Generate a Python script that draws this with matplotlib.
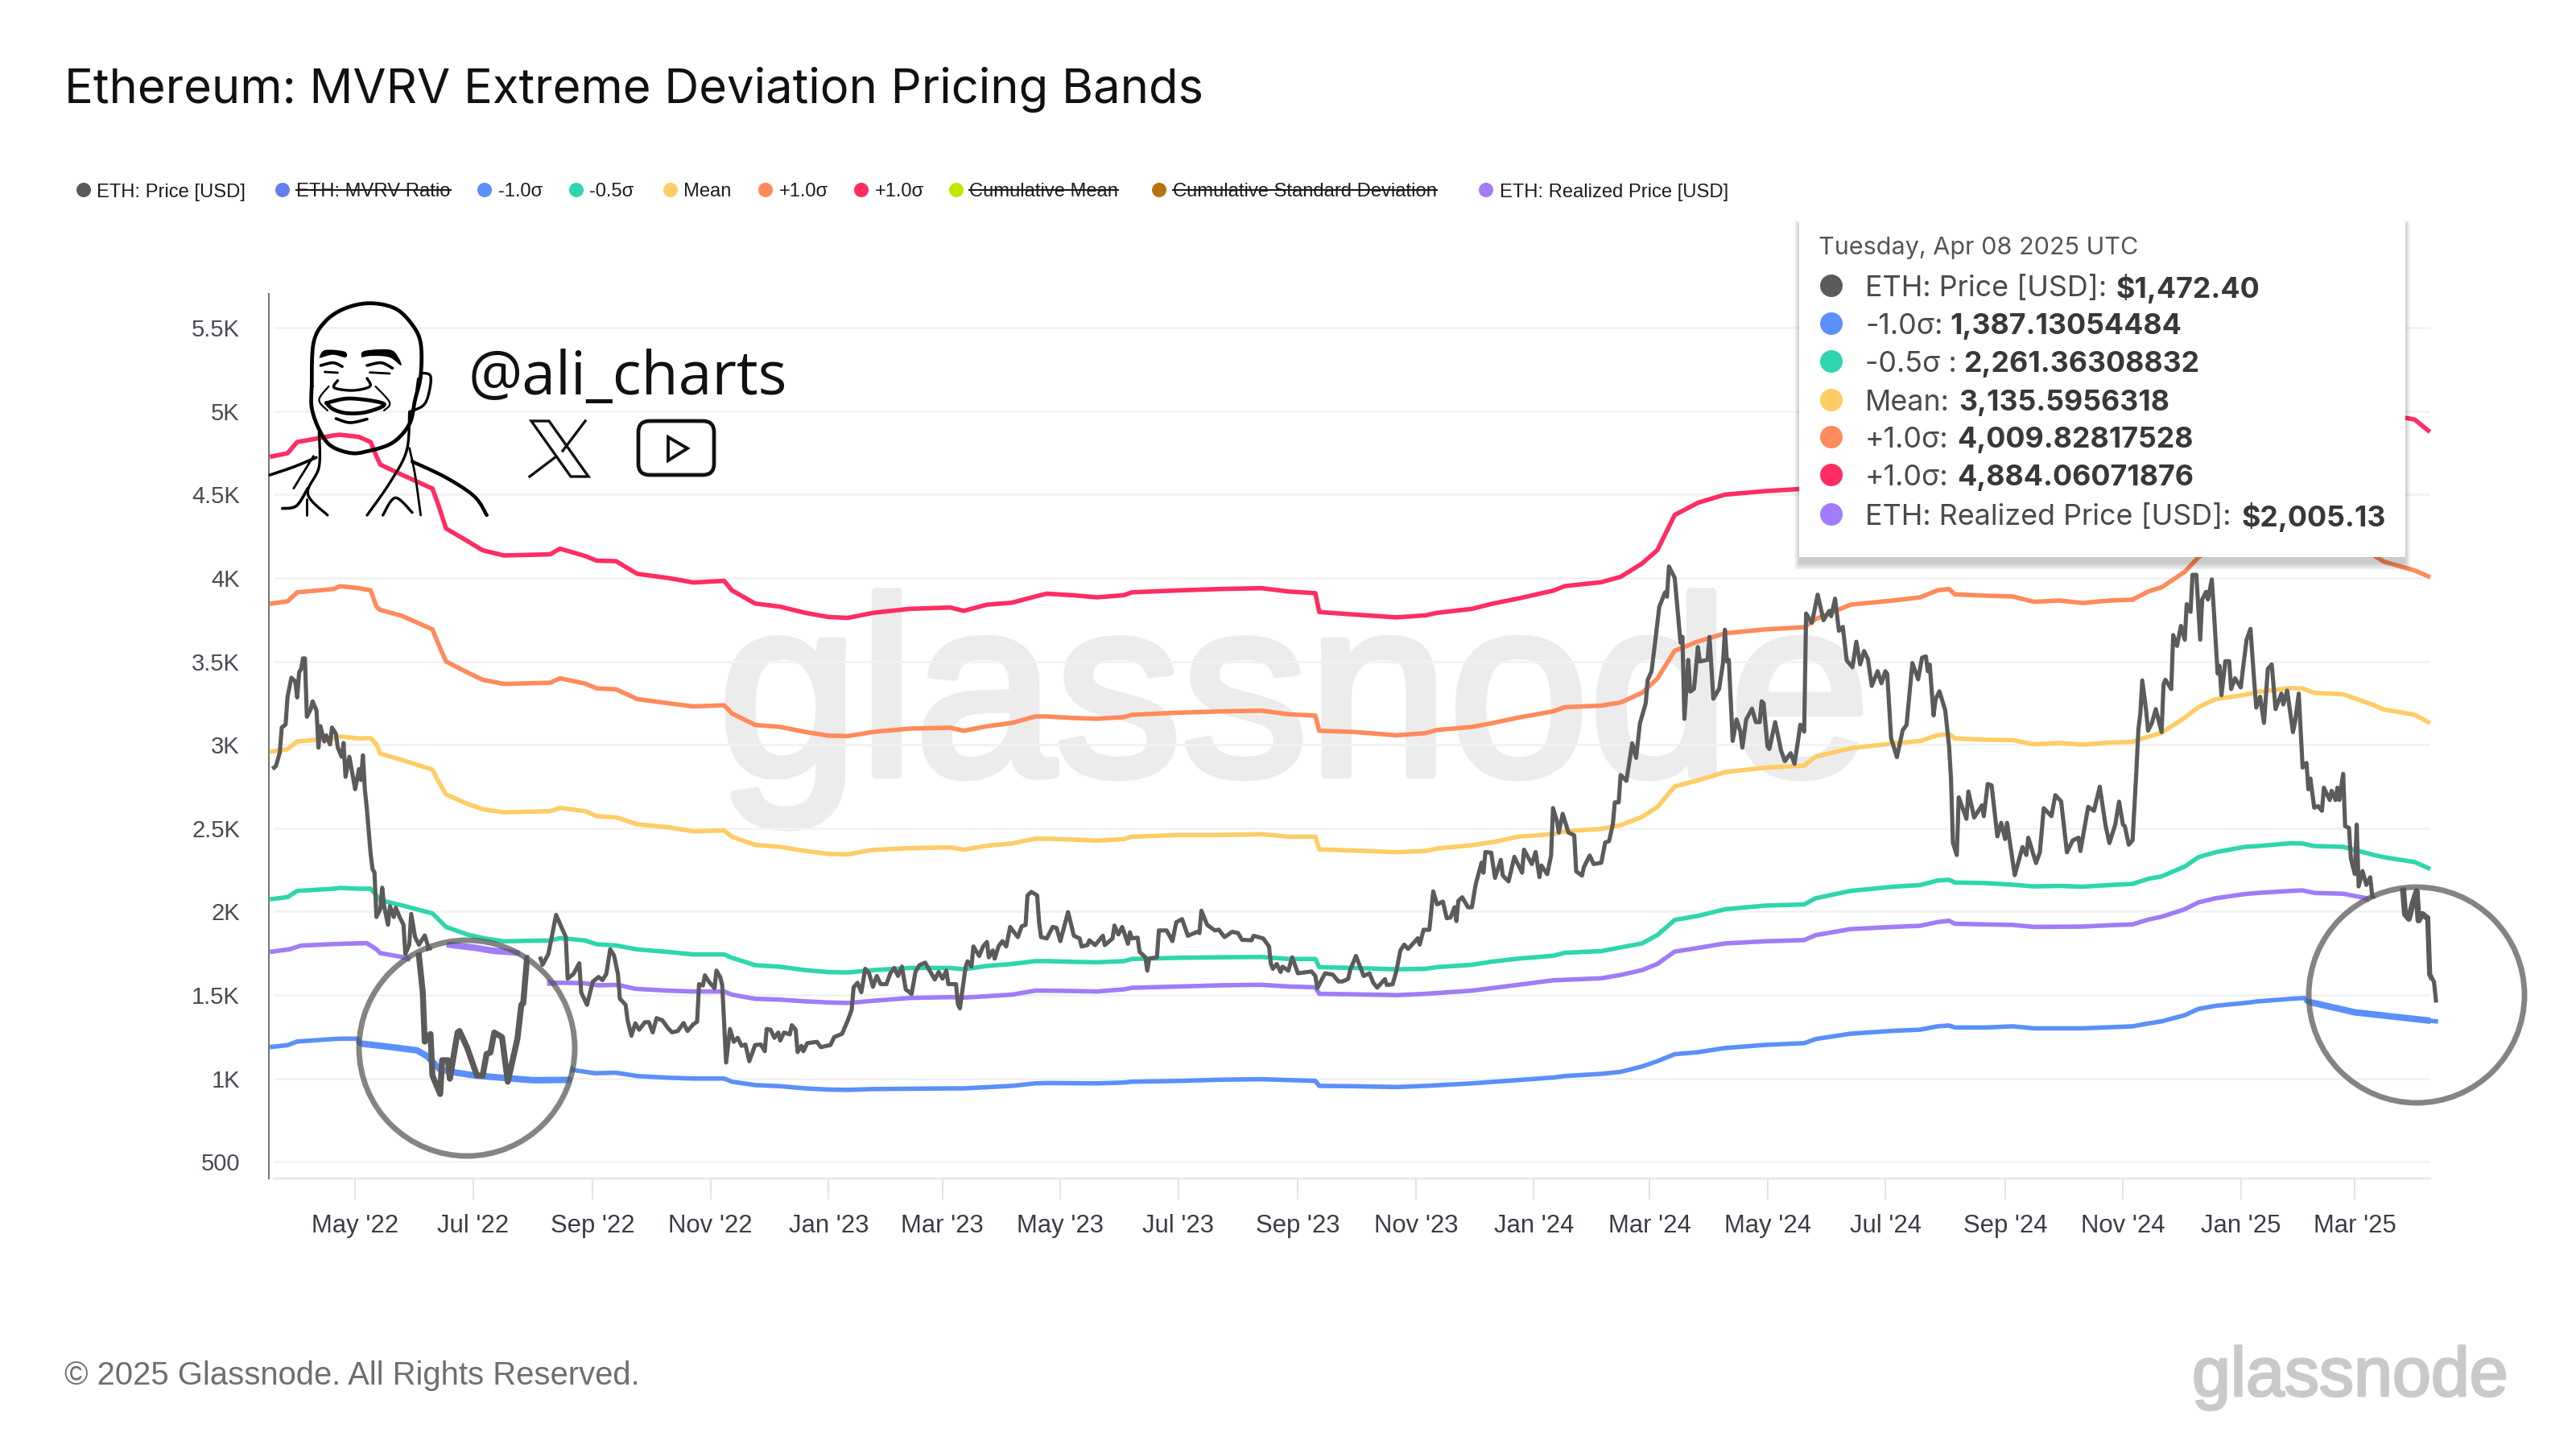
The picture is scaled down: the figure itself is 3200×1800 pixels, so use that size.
import numpy as np
import matplotlib
matplotlib.use('Agg')
import matplotlib.pyplot as plt
import matplotlib.dates as mdates
import matplotlib.patches as patches
import matplotlib.patheffects as pe

nan = float('nan')
start_date = np.datetime64('2022-03-19')

# shared day offsets (from start_date) for the four sigma bands
band_days = [0, 8, 13, 32, 35, 45, 51, 54, 56, 67, 83, 86,
             90, 101, 109, 120, 144, 149, 162, 168, 178, 189, 205, 218,
             234, 238, 250, 263, 276, 288, 298, 311, 330, 351, 358, 370,
             383, 395, 401, 414, 427, 441, 445, 470, 491, 512, 526, 540,
             542, 560, 582, 597, 603, 621, 632, 645, 663, 669, 688, 698,
             709, 717, 726, 738, 752, 773, 793, 799, 817, 839, 853, 862,
             868, 871, 887, 901, 912, 925, 937, 951, 963, 971, 978, 990,
             997, 1006, 1021, 1028, 1045, 1051, 1057, 1072, 1088, 1093, 1109, 1116]
mean_band = [2959, 2974, 3020, 3040, 3050, 3038, 3040, 3003, 2947, 2910, 2851, 2782,
             2703, 2646, 2614, 2595, 2602, 2622, 2602, 2572, 2565, 2523, 2506, 2481,
             2486, 2449, 2400, 2388, 2363, 2346, 2343, 2370, 2380, 2385, 2371, 2395,
             2408, 2437, 2437, 2432, 2425, 2435, 2449, 2459, 2459, 2464, 2449, 2449,
             2373, 2366, 2356, 2363, 2378, 2398, 2417, 2449, 2464, 2481, 2496, 2518,
             2567, 2627, 2750, 2787, 2836, 2863, 2875, 2929, 2979, 3008, 3023, 3057,
             3065, 3038, 3030, 3028, 3003, 3011, 3001, 3013, 3018, 3048, 3072, 3163,
             3225, 3274, 3299, 3318, 3340, 3338, 3311, 3303, 3237, 3212, 3180, 3136]
minus_half_band = [2075, 2087, 2124, 2137, 2142, 2137, 2137, 2097, 2068, 2038, 1989, 1955,
                   1908, 1863, 1841, 1822, 1827, 1841, 1827, 1804, 1797, 1773, 1758, 1743,
                   1743, 1723, 1679, 1669, 1649, 1637, 1635, 1649, 1662, 1662, 1654, 1674,
                   1686, 1703, 1703, 1699, 1696, 1703, 1716, 1723, 1726, 1728, 1716, 1716,
                   1667, 1662, 1654, 1657, 1667, 1681, 1701, 1718, 1735, 1753, 1763, 1785,
                   1809, 1859, 1950, 1974, 2014, 2036, 2043, 2080, 2124, 2149, 2159, 2186,
                   2191, 2174, 2171, 2161, 2151, 2154, 2149, 2159, 2166, 2196, 2211, 2270,
                   2326, 2356, 2388, 2393, 2410, 2408, 2393, 2388, 2339, 2326, 2297, 2261]
plus_one_band = [3847, 3860, 3914, 3934, 3951, 3939, 3926, 3828, 3808, 3774, 3692, 3606,
                 3500, 3434, 3390, 3365, 3372, 3399, 3367, 3338, 3333, 3274, 3249, 3230,
                 3237, 3188, 3119, 3107, 3077, 3055, 3052, 3077, 3097, 3102, 3084, 3111,
                 3131, 3170, 3170, 3161, 3156, 3166, 3180, 3193, 3200, 3205, 3183, 3175,
                 3084, 3077, 3057, 3070, 3089, 3107, 3131, 3163, 3200, 3225, 3235, 3254,
                 3311, 3397, 3564, 3619, 3668, 3692, 3705, 3754, 3840, 3865, 3884, 3926,
                 3934, 3902, 3894, 3889, 3857, 3865, 3850, 3865, 3870, 3919, 3944, 4037,
                 4124, 4192, 4210, 4243, 4270, 4268, 4229, 4218, 4135, 4098, 4045, 4010]
plus_two_band = [4729, 4748, 4815, 4855, 4859, 4846, 4815, 4730, 4680, 4620, 4536, 4440,
                 4297, 4222, 4166, 4135, 4142, 4176, 4132, 4104, 4101, 4025, 4000, 3973,
                 3983, 3926, 3847, 3828, 3791, 3766, 3761, 3791, 3815, 3823, 3803, 3840,
                 3852, 3889, 3906, 3897, 3884, 3897, 3914, 3926, 3934, 3939, 3919, 3909,
                 3796, 3781, 3764, 3776, 3791, 3815, 3847, 3877, 3924, 3951, 3975, 4007,
                 4086, 4167, 4378, 4451, 4500, 4521, 4535, 4579, 4701, 4722, 4745, 4795,
                 4803, 4766, 4758, 4750, 4711, 4719, 4699, 4717, 4722, 4790, 4816, 4911,
                 5023, 5110, 5121, 5168, 5200, 5198, 5147, 5133, 5033, 4984, 4950, 4884]

# (day, value) as seen in the picture, nan where the magnifier cuts the line
minus_one_band = [(0, 1189), (8, 1199), (13, 1221), (32, 1236), (35, 1238), (44, 1238),
                  (45, 1210), (60, 1190), (75, 1168), (80, 1135), (87, 1053), (95, 1035),
                  (105, 1017), (120, 1003), (135, 989), (154, 991), (155, nan), (156, 1050),
                  (167, 1031), (178, 1034), (189, 1014), (205, 1004), (218, 999), (234, 999),
                  (238, 980), (250, 960), (263, 953), (276, 940), (288, 933), (298, 931),
                  (311, 936), (351, 940), (358, 940), (383, 955), (395, 970), (401, 972),
                  (427, 970), (441, 975), (445, 980), (470, 985), (491, 992), (512, 995),
                  (540, 985), (542, 955), (560, 953), (582, 948), (597, 955), (621, 970),
                  (645, 990), (663, 1005), (669, 1014), (688, 1027), (698, 1039), (709, 1071),
                  (717, 1103), (726, 1145), (738, 1157), (752, 1182), (773, 1201), (793, 1211),
                  (799, 1236), (817, 1268), (839, 1285), (853, 1292), (862, 1312), (868, 1317),
                  (871, 1305), (887, 1305), (901, 1312), (912, 1300), (937, 1300), (963, 1312),
                  (971, 1329), (978, 1342), (990, 1379), (997, 1416), (1006, 1435), (1021, 1452),
                  (1028, 1462), (1045, 1477), (1052, 1482), (1053, 1462), (1078, 1396), (1120, 1342)]
realized_price = [(0, 1760), (9, 1774), (15, 1796), (31, 1805), (49, 1811), (54, 1774),
                  (56, 1751), (70, 1722), (71, nan), (92, 1801), (105, 1783), (115, 1764),
                  (127, 1755), (128, nan), (144, 1574), (161, 1571), (169, 1558), (179, 1561),
                  (188, 1537), (205, 1526), (218, 1521), (234, 1521), (238, 1502), (250, 1477),
                  (263, 1472), (276, 1462), (288, 1455), (298, 1452), (311, 1465), (330, 1482),
                  (351, 1487), (358, 1484), (383, 1502), (395, 1526), (401, 1526), (414, 1524),
                  (427, 1521), (441, 1534), (445, 1543), (470, 1551), (491, 1558), (512, 1561),
                  (526, 1551), (540, 1546), (542, 1507), (560, 1504), (582, 1499), (597, 1507),
                  (621, 1526), (645, 1561), (663, 1588), (688, 1600), (698, 1620), (709, 1649),
                  (717, 1686), (726, 1760), (738, 1782), (752, 1809), (773, 1822), (793, 1829),
                  (799, 1859), (817, 1895), (839, 1908), (853, 1915), (862, 1937), (868, 1945),
                  (871, 1927), (887, 1923), (901, 1920), (912, 1908), (937, 1910), (951, 1918),
                  (963, 1923), (971, 1952), (978, 1969), (990, 2014), (997, 2055), (1006, 2080),
                  (1021, 2105), (1028, 2112), (1045, 2124), (1051, 2127), (1057, 2112),
                  (1072, 2107), (1084, 2080)]
eth_price = [(1, 2863), (2, 2872), (4, 2955), (5, 3103), (7, 3122), (8, 3288), (10, 3402),
             (12, 3380), (13, 3284), (14, 3435), (15, 3454), (16, 3518), (17, 3518), (18, 3168),
             (20, 3214), (21, 3260), (23, 3205), (24, 2983), (25, 3112), (27, 3020), (28, 3057),
             (30, 3002), (31, 3103), (33, 3066), (34, 2983), (36, 2928), (37, 3011), (38, 2808),
             (40, 2928), (43, 2734), (45, 2854), (46, 2789), (47, 2937), (48, 2734), (49, 2623),
             (51, 2346), (52, 2254), (53, 2235), (54, 1968), (56, 2014), (57, 2143), (58, 2032),
             (60, 1921), (61, 2032), (63, 1968), (64, 2023), (66, 1968), (68, 1921), (69, 1746),
             (71, 1801), (72, 1986), (74, 1848), (76, 1801), (79, 1857), (81, 1783), (81, nan),
             (76, 1737), (78, 1515), (79, 1220), (82, 1266), (83, 1017), (87, 906), (88, 1109),
             (91, 1109), (92, 998), (96, 1275), (97, 1284), (101, 1183), (106, 1017), (109, 1017),
             (111, 1146), (113, 1155), (115, 1275), (119, 1247), (122, 980), (127, 1238),
             (129, 1441), (130, 1451), (132, 1727), (133, nan),
             (139, 1718), (140, 1681), (143, 1746), (147, 1980), (152, 1848), (153, 1598),
             (156, 1626), (159, 1690), (160, 1515), (163, 1441), (166, 1580), (169, 1608),
             (171, 1589), (173, 1626), (175, 1774), (177, 1737), (179, 1626), (180, 1478),
             (183, 1441), (184, 1349), (186, 1256), (188, 1330), (190, 1292), (193, 1337),
             (195, 1337), (197, 1276), (199, 1361), (202, 1348), (205, 1300), (207, 1276),
             (210, 1284), (213, 1332), (215, 1284), (218, 1324), (220, 1340), (221, 1565),
             (223, 1557), (224, 1618), (226, 1581), (229, 1541), (230, 1646), (232, 1606),
             (233, 1557), (235, 1095), (237, 1296), (239, 1219), (241, 1243), (243, 1195),
             (245, 1203), (247, 1103), (250, 1200), (253, 1203), (255, 1163), (256, 1296),
             (258, 1292), (260, 1243), (262, 1275), (263, 1227), (265, 1275), (268, 1264),
             (269, 1319), (271, 1292), (272, 1158), (274, 1195), (275, 1163), (277, 1211),
             (282, 1219), (284, 1187), (289, 1200), (291, 1248), (295, 1267), (298, 1348),
             (300, 1412), (301, 1546), (303, 1573), (305, 1517), (307, 1657), (309, 1630),
             (311, 1549), (313, 1614), (315, 1565), (318, 1565), (320, 1630), (322, 1662),
             (324, 1614), (326, 1670), (328, 1533), (329, 1525), (331, 1506), (333, 1638),
             (335, 1678), (338, 1694), (343, 1593), (345, 1638), (347, 1598), (349, 1646),
             (350, 1565), (354, 1565), (355, 1444), (356, 1420), (359, 1670), (360, 1702),
             (362, 1670), (363, 1791), (366, 1734), (368, 1791), (370, 1818), (371, 1726),
             (373, 1767), (374, 1718), (376, 1791), (378, 1823), (380, 1791), (382, 1908),
             (386, 1847), (388, 1912), (390, 1920), (391, 2097), (393, 2118), (396, 2097),
             (397, 1936), (398, 1847), (401, 1839), (404, 1908), (406, 1903), (408, 1823),
             (412, 1997), (415, 1855), (418, 1839), (419, 1791), (422, 1799), (423, 1828),
             (426, 1799), (430, 1855), (431, 1799), (435, 1839), (436, 1916), (438, 1863),
             (440, 1908), (443, 1807), (444, 1876), (445, 1839), (448, 1844), (449, 1759),
             (452, 1726), (453, 1646), (454, 1718), (458, 1726), (459, 1887), (463, 1887),
             (466, 1823), (468, 1936), (471, 1955), (474, 1855), (479, 1879), (480, 1871),
             (481, 2005), (484, 1920), (488, 1887), (490, 1892), (493, 1847), (497, 1879),
             (500, 1871), (502, 1831), (507, 1828), (508, 1855), (513, 1839), (516, 1791),
             (517, 1686), (518, 1657), (520, 1686), (522, 1638), (523, 1670), (526, 1646),
             (528, 1726), (531, 1630), (538, 1641), (540, 1614), (541, 1541), (545, 1630),
             (549, 1622), (552, 1581), (554, 1581), (557, 1597), (558, 1650), (561, 1734),
             (565, 1614), (568, 1630), (570, 1573), (572, 1544), (576, 1595), (577, 1560),
             (580, 1564), (582, 1647), (584, 1767), (586, 1802), (588, 1776), (593, 1840),
             (594, 1802), (596, 1891), (599, 1891), (601, 2121), (603, 2043), (606, 2060),
             (608, 1960), (610, 1965), (612, 2026), (613, 1943), (614, 2064), (616, 2086),
             (619, 2026), (621, 2026), (623, 2164), (626, 2293), (627, 2233), (628, 2357),
             (631, 2353), (633, 2202), (636, 2310), (637, 2216), (640, 2181), (643, 2328),
             (647, 2233), (648, 2371), (652, 2285), (654, 2357), (656, 2207), (657, 2276),
             (660, 2224), (662, 2336), (663, 2621), (665, 2543), (666, 2474), (668, 2586),
             (671, 2474), (674, 2457), (675, 2241), (678, 2216), (679, 2267), (682, 2336),
             (684, 2285), (688, 2293), (690, 2414), (692, 2422), (694, 2526), (695, 2655),
             (697, 2655), (698, 2819), (701, 2784), (704, 3009), (706, 2922), (708, 3129),
             (711, 3250), (712, 3388), (714, 3440), (716, 3629), (718, 3827), (721, 3914),
             (722, 3888), (723, 4069), (726, 4000), (729, 3612), (730, 3647), (731, 3155),
             (733, 3509), (734, 3319), (736, 3336), (738, 3586), (739, 3500), (743, 3509),
             (744, 3647), (746, 3276), (749, 3336), (751, 3491), (752, 3690), (753, 3500),
             (754, 3509), (756, 3023), (758, 3152), (760, 3079), (761, 2983), (763, 3152),
             (766, 3216), (768, 3136), (770, 3136), (771, 3261), (772, 3248), (774, 2991),
             (775, 2975), (778, 3136), (781, 2967), (783, 2902), (786, 2950), (788, 2886),
             (790, 3039), (791, 3120), (793, 3079), (794, 3787), (797, 3731), (800, 3900),
             (803, 3747), (806, 3803), (807, 3771), (809, 3876), (811, 3683), (813, 3707),
             (815, 3506), (818, 3465), (820, 3618), (822, 3482), (824, 3562), (826, 3514),
             (828, 3353), (831, 3441), (833, 3369), (835, 3441), (836, 3425), (838, 3039),
             (841, 2926), (844, 3087), (846, 3119), (849, 3490), (852, 3393), (854, 3522),
             (856, 3530), (857, 3441), (858, 3481), (860, 3176), (861, 3272), (863, 3321),
             (866, 3208), (868, 2991), (869, 2797), (870, 2411), (872, 2339), (873, 2685),
             (877, 2556), (878, 2720), (881, 2564), (885, 2637), (886, 2572), (888, 2765),
             (890, 2757), (893, 2451), (895, 2532), (897, 2435), (898, 2532), (902, 2218),
             (906, 2387), (908, 2339), (909, 2443), (913, 2291), (915, 2355), (917, 2620),
             (921, 2572), (923, 2698), (926, 2661), (929, 2355), (932, 2427), (935, 2443),
             (936, 2363), (940, 2628), (943, 2604), (946, 2749), (949, 2516), (951, 2411),
             (954, 2521), (956, 2659), (958, 2521), (959, 2512), (961, 2401), (963, 2428),
             (965, 2854), (966, 3094), (967, 3186), (968, 3386), (970, 3205), (971, 3085),
             (973, 3131), (975, 3214), (978, 3076), (979, 3362), (980, 3390), (983, 3334),
             (984, 3658), (986, 3593), (988, 3713), (990, 3630), (991, 3843), (993, 3797),
             (994, 4019), (996, 4019), (998, 3630), (999, 3871), (1001, 3917), (1002, 3871),
             (1004, 3991), (1005, 3815), (1007, 3427), (1008, 3473), (1009, 3297), (1011, 3501),
             (1013, 3501), (1014, 3334), (1016, 3399), (1019, 3344), (1020, 3445), (1022, 3630),
             (1024, 3695), (1026, 3371), (1027, 3223), (1029, 3288), (1031, 3131), (1033, 3455),
             (1035, 3482), (1037, 3214), (1040, 3307), (1041, 3242), (1043, 3325), (1046, 3076),
             (1047, 3131), (1049, 3307), (1051, 2863), (1053, 2891), (1054, 2733), (1055, 2798),
             (1057, 2623), (1059, 2632), (1061, 2604), (1062, 2743), (1065, 2669), (1066, 2724),
             (1068, 2669), (1069, 2743), (1070, 2669), (1072, 2826), (1073, 2512), (1075, 2502),
             (1076, 2317), (1078, 2225), (1079, 2521), (1080, 2151), (1082, 2243), (1084, 2160),
             (1086, 2206), (1087, 2095), (1088, nan),
             (1103, 2132), (1104, 1985), (1106, 1957), (1108, 2050), (1110, 2123), (1111, 1947),
             (1113, 1985), (1116, 1957), (1117, 1624), (1119, 1578), (1120, 1467)]

y_ticks = [500, 1000, 1500, 2000, 2500, 3000, 3500, 4000, 4500, 5000, 5500]
y_labels = ['500', '1K', '1.5K', '2K', '2.5K', '3K', '3.5K', '4K', '4.5K', '5K', '5.5K']
x_tick_dates = ['2022-05-01', '2022-07-01', '2022-09-01', '2022-11-01', '2023-01-01', '2023-03-01',
                '2023-05-01', '2023-07-01', '2023-09-01', '2023-11-01', '2024-01-01', '2024-03-01',
                '2024-05-01', '2024-07-01', '2024-09-01', '2024-11-01', '2025-01-01', '2025-03-01']
x_labels = ["May '22", "Jul '22", "Sep '22", "Nov '22", "Jan '23", "Mar '23",
            "May '23", "Jul '23", "Sep '23", "Nov '23", "Jan '24", "Mar '24",
            "May '24", "Jul '24", "Sep '24", "Nov '24", "Jan '25", "Mar '25"]

C_PRICE = '#5b5b5b'
C_BLUE = '#5b8ff9'
C_GREEN = '#2fd6ad'
C_YELLOW = '#ffcc66'
C_ORANGE = '#ff8a5c'
C_RED = '#ff2d62'
C_PURPLE = '#a07cf8'

legend_items = [('ETH: Price [USD]', C_PRICE, False, 104, 120),
                ('ETH: MVRV Ratio', '#6480ee', True, 351, 368),
                ('-1.0σ', C_BLUE, False, 602, 619),
                ('-0.5σ', C_GREEN, False, 716, 732),
                ('Mean', C_YELLOW, False, 833, 849),
                ('+1.0σ', C_ORANGE, False, 951, 968),
                ('+1.0σ', C_RED, False, 1070, 1087),
                ('Cumulative Mean', '#bfe800', True, 1188, 1204),
                ('Cumulative Standard Deviation', '#b8730c', True, 1440, 1457),
                ('ETH: Realized Price [USD]', C_PURPLE, False, 1846, 1863)]

tooltip_rows = [('ETH: Price [USD]:', '$1,472.40', C_PRICE, 355, 2629),
                ('-1.0σ:', '1,387.13054484', C_BLUE, 402, 2422),
                ('-0.5σ :', '2,261.36308832', C_GREEN, 449, 2439),
                ('Mean:', '3,135.5956318', C_YELLOW, 497, 2433),
                ('+1.0σ:', '4,009.82817528', C_ORANGE, 543, 2431),
                ('+1.0σ:', '4,884.06071876', C_RED, 590, 2431),
                ('ETH: Realized Price [USD]:', '$2,005.13', C_PURPLE, 639, 2785)]

SANS = 'Liberation Sans'
W, H = 3200, 1800
AX_L, AX_R, AX_T, AX_B = 334, 3019, 365, 1464
PX_PER_DAY = 2.4
LEFT_PAD = 4  # first data point sits a few px right of the axis line


def to_num(days):
    return mdates.date2num(start_date) + np.asarray(days, dtype=float)


def split(pairs):
    d, v = zip(*pairs)
    return to_num(d), np.array(v, dtype=float)


fig = plt.figure(figsize=(16, 9), dpi=200, facecolor='white')
ax = fig.add_axes([AX_L / W, 1 - AX_B / H, (AX_R - AX_L) / W, (AX_B - AX_T) / H])
ax.set_facecolor('none')
ax.set_xlim(to_num(-LEFT_PAD / PX_PER_DAY), to_num((AX_R - AX_L - LEFT_PAD) / PX_PER_DAY))
ax.set_ylim(399.6, 5703.7)

for s in ['top', 'right']:
    ax.spines[s].set_visible(False)
ax.spines['left'].set_color('#777777')
ax.spines['left'].set_linewidth(0.75)
ax.spines['bottom'].set_color('#e4e4e4')
ax.spines['bottom'].set_linewidth(0.75)
ax.spines['bottom'].set_bounds(to_num(1), ax.get_xlim()[1])

ax.set_yticks(y_ticks)
ax.set_yticklabels(y_labels, fontfamily=SANS, fontsize=10.5, color='#4a4a55')
ax.tick_params(axis='y', length=0, pad=13)
ax.set_xticks(mdates.date2num(np.array(x_tick_dates, dtype='datetime64[D]')))
ax.set_xticklabels(x_labels, fontfamily=SANS, fontsize=11.2, color='#3c3c46')
ax.tick_params(axis='x', length=9.4, width=0.75, color='#e4e4e4', pad=6.5)

ax.hlines(y_ticks, to_num(1), ax.get_xlim()[1], color='#f2f2f2', lw=1.0, zorder=2)

# watermark
wm = ax.text(to_num((892 - 338) / PX_PER_DAY), 2820, 'glassnode', fontfamily=SANS, fontsize=113,
             color='#ececec', ha='left', va='baseline', zorder=1)
wm.set_path_effects([pe.withStroke(linewidth=3.5, foreground='#ececec')])

series = [(to_num(band_days), np.array(plus_two_band, float), C_RED, 2.0),
          (to_num(band_days), np.array(plus_one_band, float), C_ORANGE, 2.0),
          (to_num(band_days), np.array(mean_band, float), C_YELLOW, 2.0),
          (to_num(band_days), np.array(minus_half_band, float), C_GREEN, 2.0),
          split(realized_price) + (C_PURPLE, 2.0),
          split(minus_one_band) + (C_BLUE, 2.0),
          split(eth_price) + (C_PRICE, 1.85)]

# overlay in pixel coords for everything that is not the chart itself
ov = fig.add_axes([0, 0, 1, 1], zorder=5)
ov.set_xlim(0, W)
ov.set_ylim(H, 0)
ov.axis('off')

magnifiers = [(580, 1302), (3002, 1236)]

for x, y, c, lw in series:
    ax.plot(x, y, color=c, lw=lw, zorder=3, clip_on=False, solid_joinstyle='round')
    for center in magnifiers:
        clip = patches.Circle(center, 134, transform=ov.transData)
        line, = ax.plot(x, y, color=c, lw=lw * 1.45, zorder=3, solid_joinstyle='round')
        line.set_clip_path(clip)
ax.set_xlim(to_num(-LEFT_PAD / PX_PER_DAY), to_num((AX_R - AX_L - LEFT_PAD) / PX_PER_DAY))

for center in magnifiers:
    ov.add_patch(patches.Circle(center, 134, fc='none', ec='#555555', lw=2.5, alpha=0.72))

# title and footer
fig.text(80 / W, 1 - 128 / H, 'Ethereum: MVRV Extreme Deviation Pricing Bands', fontfamily='Inter',
         fontsize=21.5, color='#111111', va='baseline')
fig.text(80 / W, 1 - 1720 / H, '© 2025 Glassnode. All Rights Reserved.', fontfamily=SANS,
         fontsize=14.4, color='#6e6e6e', va='baseline')
logo = fig.text(2723 / W, 1 - 1734 / H, 'glassnode', fontfamily=SANS, fontsize=31, color='#c9c9c9', va='baseline')
logo.set_path_effects([pe.withStroke(linewidth=1.0, foreground='#c9c9c9')])

# legend
for label, color, off, dot_x, text_x in legend_items:
    ov.add_patch(patches.Circle((dot_x, 236), 9, fc=color, ec='none'))
    t = ov.text(text_x, 236, label, fontfamily=SANS, fontsize=8.55, color='#1c1c1c', va='center_baseline')
    if off:
        bb = t.get_window_extent(fig.canvas.get_renderer())
        ov.plot([text_x, text_x + bb.width], [236, 236], color='#1c1c1c', lw=0.75)

# tooltip, the shadow is mostly under the box
for i in range(7):
    grow = i * 2
    ov.add_patch(patches.Rectangle((2235 - grow * 0.5, 270 + 8 - grow * 0.3), 753 + grow, 422 + grow,
                                   fc='#000000', ec='none', alpha=0.03))
ov.add_patch(patches.Rectangle((2235, 270), 753, 422, fc='white', ec='none'))
ov.text(2259, 305, 'Tuesday, Apr 08 2025 UTC', fontfamily='Inter', fontsize=11.0, color='#555555', va='center_baseline')
for label, value, color, y, value_x in tooltip_rows:
    ov.add_patch(patches.Circle((2275, y), 14, fc=color, ec='none'))
    ov.text(2317, y, label, fontfamily='Inter', fontsize=12.9, color='#4a4a4a', va='center_baseline')
    ov.text(value_x, y, value, fontfamily='Inter', fontsize=12.9, fontweight='bold', color='#383838', va='center_baseline')


def smooth(pts, n=12):
    # catmull-rom through the points, good enough for the sketch
    p = np.array(pts, dtype=float)
    p = np.vstack([p[0], p, p[-1]])
    out = []
    for i in range(1, len(p) - 2):
        for t in np.linspace(0, 1, n, endpoint=False):
            out.append(0.5 * (2 * p[i] + (p[i + 1] - p[i - 1]) * t
                              + (2 * p[i - 1] - 5 * p[i] + 4 * p[i + 1] - p[i + 2]) * t ** 2
                              + (3 * p[i] - p[i - 1] - 3 * p[i + 1] + p[i + 2]) * t ** 3))
    out.append(p[-2])
    return np.array(out)


def sketch(pts, lw=1.3, fill=False):
    # points are in the crop coords I measured from, scale back to picture px
    s = smooth(pts)
    x = s[:, 0] / 1.4255
    y = 180 + s[:, 1] / 3
    if fill:
        ov.fill(x, y, color='black', lw=0)
    else:
        ov.plot(x, y, color='black', lw=lw, solid_capstyle='round', zorder=6)


sketch([(552, 900), (555, 740), (575, 660), (610, 610), (655, 590), (700, 610), (730, 670), (745, 740), (745, 860),
        (735, 950), (725, 1040), (695, 1110), (650, 1142), (620, 1148), (585, 1120), (565, 1060), (552, 980), (552, 900)], 1.7)
sketch([(565, 795), (575, 765), (610, 770), (612, 792), (590, 782), (570, 792), (565, 795)], fill=True)
sketch([(640, 792), (645, 768), (690, 763), (705, 790), (710, 822), (690, 792), (660, 786), (640, 792)], fill=True)
sketch([(568, 822), (590, 812), (606, 826)], 1.3)
sketch([(575, 846), (598, 849)], 1.0)
sketch([(650, 822), (675, 812), (695, 832)], 1.3)
sketch([(655, 848), (690, 852)], 1.0)
sketch([(598, 878), (592, 905), (625, 915), (655, 900), (650, 870)], 1.2)
sketch([(582, 900), (565, 950), (580, 990)], 0.8)
sketch([(665, 900), (690, 960), (680, 990)], 0.8)
sketch([(578, 962), (620, 945), (680, 965), (650, 995), (615, 1000), (590, 985), (578, 962)], 1.7)
sketch([(595, 1020), (620, 1035), (650, 1022)], 1.3)
sketch([(745, 850), (762, 860), (760, 920), (750, 970), (725, 995)], 1.2)
sketch([(740, 870), (735, 950)], 0.8)
sketch([(565, 1070), (565, 1200), (545, 1300), (580, 1380)], 1.2)
sketch([(555, 1160), (520, 1280)], 1.0)
sketch([(725, 1130), (735, 1230), (745, 1380)], 1.0)
sketch([(725, 1000), (720, 1140), (690, 1260), (650, 1380)], 1.2)
sketch([(478, 1230), (520, 1200), (560, 1165)], 1.3)
sketch([(500, 1355), (525, 1345), (545, 1280)], 1.3)
sketch([(543, 1320), (543, 1380)], 1.0)
sketch([(730, 1180), (790, 1240), (840, 1310), (862, 1380)], 1.6)
sketch([(678, 1380), (700, 1315), (730, 1370)], 1.2)

ov.text(582, 490, '@ali_charts', fontfamily='Open Sans', fontsize=27, color='#111111', va='baseline')

# X and YouTube marks
ov.add_patch(patches.Polygon([(660, 523), (682, 523), (731, 592), (709, 592)], closed=True, fc='none', ec='#111111', lw=1.2))
ov.plot([727, 699], [523, 560], color='#111111', lw=1.2)
ov.plot([691, 658], [567, 592], color='#111111', lw=1.2)
ov.add_patch(patches.FancyBboxPatch((803, 533), 74, 47, boxstyle='round,pad=10,rounding_size=14', fc='none', ec='#111111', lw=1.7))
ov.add_patch(patches.Polygon([(830, 543), (854, 557), (830, 572)], closed=True, fc='none', ec='#111111', lw=1.4))

fig.savefig('out.png', dpi=200)
